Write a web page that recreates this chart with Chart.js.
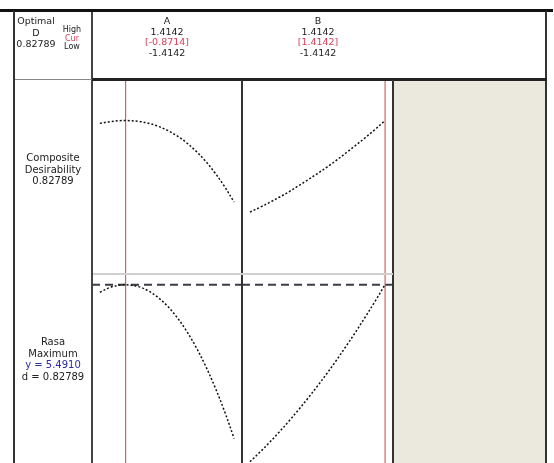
<!DOCTYPE html>
<html>
<head>
<meta charset="utf-8">
<script src="https://cdn.jsdelivr.net/npm/chart.js@4.4.0/dist/chart.umd.min.js"></script>
<style>
  body { margin: 0; width: 554px; height: 463px; overflow: hidden; background: #fff; position: relative;
         font-family: "DejaVu Sans", Verdana, sans-serif; color: #222; }
  .box { position: absolute; }
  .txt { position: absolute; white-space: nowrap; font-size: 9.5px; line-height: 10px; }
  canvas { position: absolute; }
</style>
</head>
<body>

<!-- beige filler right of the factor panels -->
<div class="box" style="left:394px;top:81px;width:151px;height:382px;background:#ebe8de"></div>

<canvas id="chartA1" width="150" height="194" style="left:92px;top:80px"></canvas>
<canvas id="chartB1" width="151" height="194" style="left:242px;top:80px"></canvas>
<canvas id="chartA2" width="150" height="195" style="left:92px;top:275px"></canvas>
<canvas id="chartB2" width="151" height="195" style="left:242px;top:275px"></canvas>

<!-- frame -->
<div class="box" style="left:0;top:9px;width:553px;height:3px;background:#111"></div>
<div class="box" style="left:13px;top:11px;width:2px;height:452px;background:#333"></div>
<div class="box" style="left:545px;top:11px;width:2px;height:452px;background:#333"></div>
<div class="box" style="left:91px;top:12px;width:2px;height:451px;background:#444"></div>
<div class="box" style="left:15px;top:79px;width:77px;height:1px;background:#888"></div>
<div class="box" style="left:92px;top:78px;width:455px;height:3px;background:#222"></div>
<div class="box" style="left:241px;top:80px;width:2px;height:383px;background:#333"></div>
<div class="box" style="left:392px;top:80px;width:2px;height:383px;background:#333"></div>
<div class="box" style="left:93px;top:273px;width:300px;height:2px;background:#d0d0d0"></div>

<div id="labels"></div>

<script>
// factor settings (coded units)
const factorNames = ["A", "B"];
const factorHigh = [1.4142, 1.4142];
const factorLow = [-1.4142, -1.4142];
const factorCur = [-0.8714, 1.4142];

// grid of factor levels each curve is traced over
const levelsA = [-1.4142, -1.2, -1.0, -0.8714, -0.6, -0.4, -0.2, 0, 0.2, 0.4, 0.6, 0.8, 1.0, 1.2, 1.4142];
const levelsB = [-1.4142, -1.2, -1.0, -0.8, -0.6, -0.4, -0.2, 0, 0.2, 0.4, 0.6, 0.8, 1.0, 1.2, 1.4142];

// composite desirability vs each factor
const desirA = [0.818, 0.8241, 0.8273, 0.82789, 0.8250, 0.8187, 0.8086, 0.7943, 0.7754, 0.7516, 0.7225, 0.6877, 0.6469, 0.5997, 0.542];
const desirB = [0.507, 0.524, 0.541, 0.559, 0.578, 0.599, 0.620, 0.642, 0.665, 0.689, 0.715, 0.741, 0.768, 0.796, 0.82789];

// Rasa response vs each factor
const rasaA = [5.39, 5.454, 5.485, 5.4910, 5.465, 5.411, 5.327, 5.212, 5.065, 4.885, 4.672, 4.424, 4.142, 3.823, 3.44];
const rasaB = [3.13, 3.261, 3.390, 3.527, 3.670, 3.820, 3.977, 4.140, 4.310, 4.487, 4.672, 4.862, 5.060, 5.264, 5.4910];

const optimalD = 0.82789;
const rasaTarget = 5.4910;

const xPad = 0.166;
const desirRange = [0.29, 0.97];
const rasaRange = [3.02, 5.62];

function toPoints(xs, ys) {
  return xs.map((x, i) => ({ x: x, y: ys[i] }));
}

function makePanel(id, xs, ys, yRange, cur, target) {
  const xMin = -1.4142 - xPad, xMax = 1.4142 + xPad;
  const datasets = [
    {
      data: toPoints(xs, ys),
      borderColor: "#111",
      borderWidth: 1.5,
      borderDash: [2, 2],
      tension: 0.35,
      pointRadius: 0
    },
    {
      // current setting marker
      data: [{ x: cur, y: yRange[0] }, { x: cur, y: yRange[1] }],
      borderColor: "#c24a4a",
      borderWidth: 1,
      pointRadius: 0
    }
  ];
  if (target !== undefined) {
    datasets.push({
      data: [{ x: xMin, y: target }, { x: xMax, y: target }],
      borderColor: "#3c3c48",
      borderWidth: 2,
      borderDash: [8, 5],
      pointRadius: 0
    });
  }
  return new Chart(document.getElementById(id), {
    type: "line",
    data: { datasets: datasets },
    options: {
      responsive: false,
      animation: false,
      layout: { padding: 0 },
      plugins: { legend: { display: false }, tooltip: { enabled: false } },
      scales: {
        x: { type: "linear", min: xMin, max: xMax, display: false },
        y: { min: yRange[0], max: yRange[1], display: false }
      }
    }
  });
}

makePanel("chartA1", levelsA, desirA, desirRange, factorCur[0]);
makePanel("chartB1", levelsB, desirB, desirRange, factorCur[1]);
makePanel("chartA2", levelsA, rasaA, rasaRange, factorCur[0], rasaTarget);
makePanel("chartB2", levelsB, rasaB, rasaRange, factorCur[1], rasaTarget);

// text blocks: centred lines
const labels = document.getElementById("labels");
function addLines(cx, top, lines, step, size) {
  lines.forEach((ln, i) => {
    const d = document.createElement("div");
    d.className = "txt";
    d.textContent = ln.t;
    d.style.top = (top + i * step - 5) + "px";
    d.style.left = (cx - 60) + "px";
    d.style.width = "120px";
    d.style.textAlign = "center";
    if (size) d.style.fontSize = size + "px";
    if (ln.c) d.style.color = ln.c;
    labels.appendChild(d);
  });
}
const fmt = v => v.toFixed(4);

addLines(36, 21, [{ t: "Optimal" }, { t: "D" }, { t: optimalD.toFixed(5) }], 11.5);
addLines(72, 30, [{ t: "High" }, { t: "Cur", c: "#d0435a" }, { t: "Low" }], 8.5, 8);

const centers = [167, 318];
factorNames.forEach((name, i) => {
  addLines(centers[i], 21, [
    { t: name },
    { t: fmt(factorHigh[i]) },
    { t: "[" + fmt(factorCur[i]) + "]", c: "#d0435a" },
    { t: fmt(factorLow[i]) }
  ], 10.5);
});

addLines(53, 158, [{ t: "Composite" }, { t: "Desirability" }, { t: optimalD.toFixed(5) }], 11.5, 10);
addLines(53, 342, [
  { t: "Rasa" },
  { t: "Maximum" },
  { t: "y = " + rasaTarget.toFixed(4), c: "#2b2ba0" },
  { t: "d = " + optimalD.toFixed(5) }
], 11.7, 10);
</script>
</body>
</html>
